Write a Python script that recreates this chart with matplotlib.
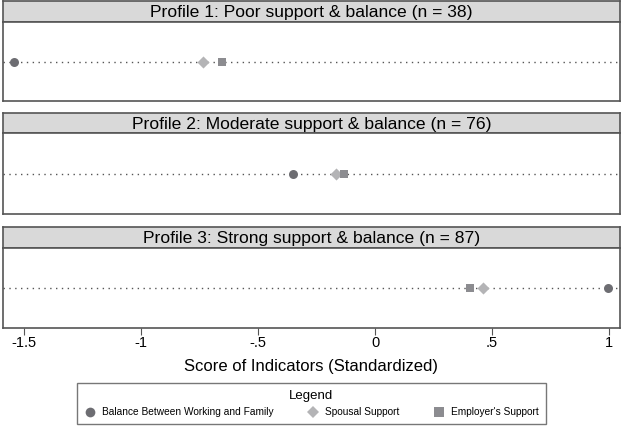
import numpy as np
import matplotlib.pyplot as plt
from matplotlib.lines import Line2D

plt.rcParams['font.family'] = ['Liberation Sans', 'DejaVu Sans']

# data
profiles = ["Profile 1: Poor support & balance (n = 38)",
            "Profile 2: Moderate support & balance (n = 76)",
            "Profile 3: Strong support & balance (n = 87)"]
balance = [-1.543, -0.350, 0.995]
spousal = [-0.735, -0.167, 0.462]
employer = [-0.654, -0.132, 0.406]
xticks = [-1.5, -1, -0.5, 0, 0.5, 1]
xticklabels = ["-1.5", "-1", "-.5", "0", ".5", "1"]

W, H = 623, 428
fig = plt.figure(figsize=(W / 100, H / 100), dpi=100)

# (strip top, strip bottom, plot bottom) in pixels
rows = [(1, 22, 101), (113, 133, 214), (227, 248, 328)]
x0, x1 = 3, 620
xlim = (-1.59, 1.047)

edge = "#555555"
c_bal, c_sp, c_emp = "#6d6d72", "#b4b4b6", "#8c8c90"

for i, (top, mid, bot) in enumerate(rows):
    # title strip
    sax = fig.add_axes([x0 / W, 1 - mid / H, (x1 - x0) / W, (mid - top) / H])
    sax.set_facecolor("#d9d9d9")
    sax.set_xticks([]); sax.set_yticks([])
    for s in sax.spines.values():
        s.set_color(edge); s.set_linewidth(1.2)
    sax.text(0.5, 0.45, profiles[i], ha="center", va="center", fontsize=12.6,
             transform=sax.transAxes)

    ax = fig.add_axes([x0 / W, 1 - bot / H, (x1 - x0) / W, (bot - mid) / H])
    ax.set_xlim(*xlim)
    ax.set_ylim(-1, 1)
    ax.set_yticks([])
    for s in ax.spines.values():
        s.set_color(edge); s.set_linewidth(1.2)
    ax.plot(xlim, [0, 0], color="#555555", lw=1, dashes=(1, 3.2), zorder=1)
    ax.scatter([balance[i]], [0], marker="o", s=42, color=c_bal, zorder=3, linewidths=0)
    ax.scatter([spousal[i]], [0], marker="D", s=38, color=c_sp, zorder=3, linewidths=0)
    ax.scatter([employer[i]], [0], marker="s", s=36, color=c_emp, zorder=3, linewidths=0)
    if i < 2:
        ax.set_xticks([])
    else:
        ax.set_xticks(xticks)
        ax.set_xticklabels(xticklabels, fontsize=10.5)
        ax.tick_params(axis="x", length=5, color=edge, pad=1)
        ax.set_xlabel("Score of Indicators (Standardized)", fontsize=12, labelpad=6)

handles = [
    Line2D([], [], marker="o", ls="none", color=c_bal, markersize=7, markeredgewidth=0),
    Line2D([], [], marker="D", ls="none", color=c_sp, markersize=6.5, markeredgewidth=0),
    Line2D([], [], marker="s", ls="none", color=c_emp, markersize=6.5, markeredgewidth=0),
]
leg = fig.legend(handles, ["Balance Between Working and Family", "Spousal Support",
                           "Employer's Support"],
                 title="Legend", ncol=3, loc="upper center",
                 bbox_to_anchor=(311.5 / W, 1 - 383 / H), borderaxespad=0,
                 fontsize=7.3, title_fontsize=9.5, frameon=True, fancybox=False,
                 edgecolor=edge, columnspacing=3.3, handletextpad=0.6,
                 borderpad=0.7, handlelength=1.2)
leg.get_frame().set_linewidth(1.0)

fig.savefig("out.png", dpi=100)
